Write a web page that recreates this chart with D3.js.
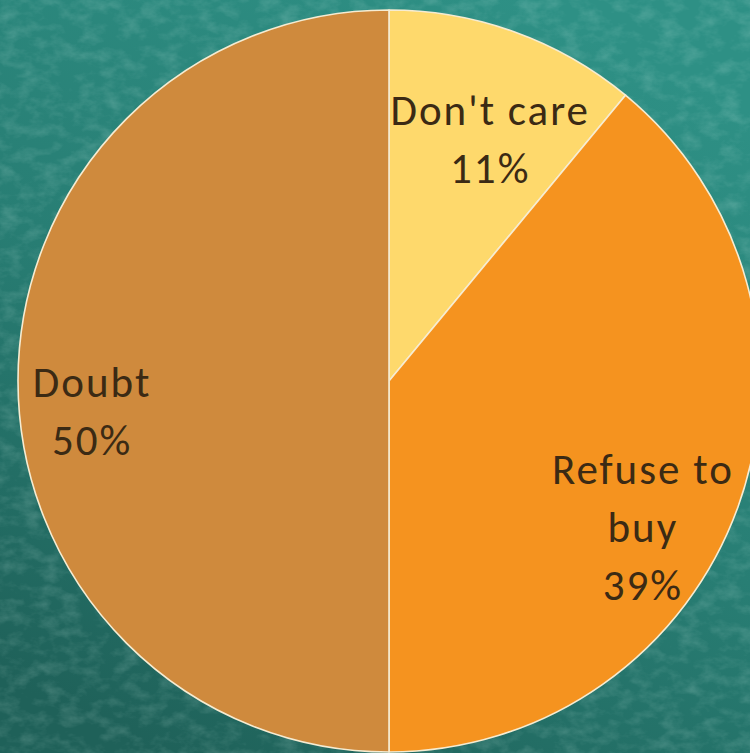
<!DOCTYPE html>
<html>
<head>
<meta charset="utf-8">
<script src="https://cdn.jsdelivr.net/npm/d3@7"></script>
<style>
  html, body { margin: 0; padding: 0; background: #25796f; }
  svg { display: block; }
</style>
</head>
<body>
<svg id="chart" width="750" height="753"></svg>
<script>
// Survey answers and their shares (percent)
const categories = ["Don't care", "Refuse to buy", "Doubt"];
const values = [11, 39, 50];
const labelLines = [["Don't care"], ["Refuse to", "buy"], ["Doubt"]];
const colors = ["#fed96c", "#f5931f", "#cf8a3d"];
// Label placement: radial fraction and angular nudge (degrees) from the slice middle
const labelRadius = [0.706, 0.787, 0.807];
const labelNudge = [2.7, 10.2, -5.7];

const W = 750, H = 753;
const svg = d3.select("#chart");
const defs = svg.append("defs");

// Chalkboard-style backdrop
const grad = defs.append("linearGradient").attr("id", "bg")
  .attr("x1", 0.7).attr("y1", 0).attr("x2", 0.2).attr("y2", 1);
grad.append("stop").attr("offset", 0).attr("stop-color", "#2e9085");
grad.append("stop").attr("offset", 0.5).attr("stop-color", "#287e74");
grad.append("stop").attr("offset", 1).attr("stop-color", "#1f6159");

const noise = defs.append("filter").attr("id", "grain")
  .attr("x", 0).attr("y", 0).attr("width", "100%").attr("height", "100%");
noise.append("feTurbulence").attr("type", "fractalNoise")
  .attr("baseFrequency", "0.05 0.08").attr("numOctaves", 4).attr("seed", 3).attr("result", "n");
noise.append("feColorMatrix").attr("in", "n").attr("type", "matrix")
  .attr("values", "0 0 0 0 0.7  0 0 0 0 0.92  0 0 0 0 0.86  0 0 0 1.3 -0.55");

svg.append("rect").attr("width", W).attr("height", H).attr("fill", "url(#bg)");
svg.append("rect").attr("width", W).attr("height", H).attr("filter", "url(#grain)").attr("opacity", 0.28);

const cx = 389, cy = 381, R = 371;
const g = svg.append("g").attr("transform", `translate(${cx},${cy})`);

const pie = d3.pie().sort(null).value(d => d)(values);
const arc = d3.arc().innerRadius(0).outerRadius(R);

g.selectAll("path.slice").data(pie).join("path")
  .attr("class", "slice")
  .attr("d", arc)
  .attr("fill", (d, i) => colors[i])
  .attr("stroke", "#f6ecd2")
  .attr("stroke-width", 1.6)
  .attr("stroke-linejoin", "round");

const fontSize = 43, lineGap = 58;
pie.forEach((d, i) => {
  const mid = (d.startAngle + d.endAngle) / 2 + labelNudge[i] * Math.PI / 180;
  const r = R * labelRadius[i];
  const x = Math.sin(mid) * r, y = -Math.cos(mid) * r;
  const lines = labelLines[i].concat([values[i] + "%"]);
  const y0 = y - (lines.length - 1) * lineGap / 2;
  const t = g.append("text")
    .attr("text-anchor", "middle")
    .attr("font-family", "Carlito, Lato, 'Open Sans', sans-serif")
    .attr("font-size", fontSize)
    .attr("letter-spacing", 2)
    .attr("fill", "#3b2a14");
  lines.forEach((ln, k) => {
    t.append("tspan").attr("x", x + 1).attr("y", y0 + k * lineGap)
      .attr("dy", "0.35em").text(ln);
  });
});
</script>
</body>
</html>
